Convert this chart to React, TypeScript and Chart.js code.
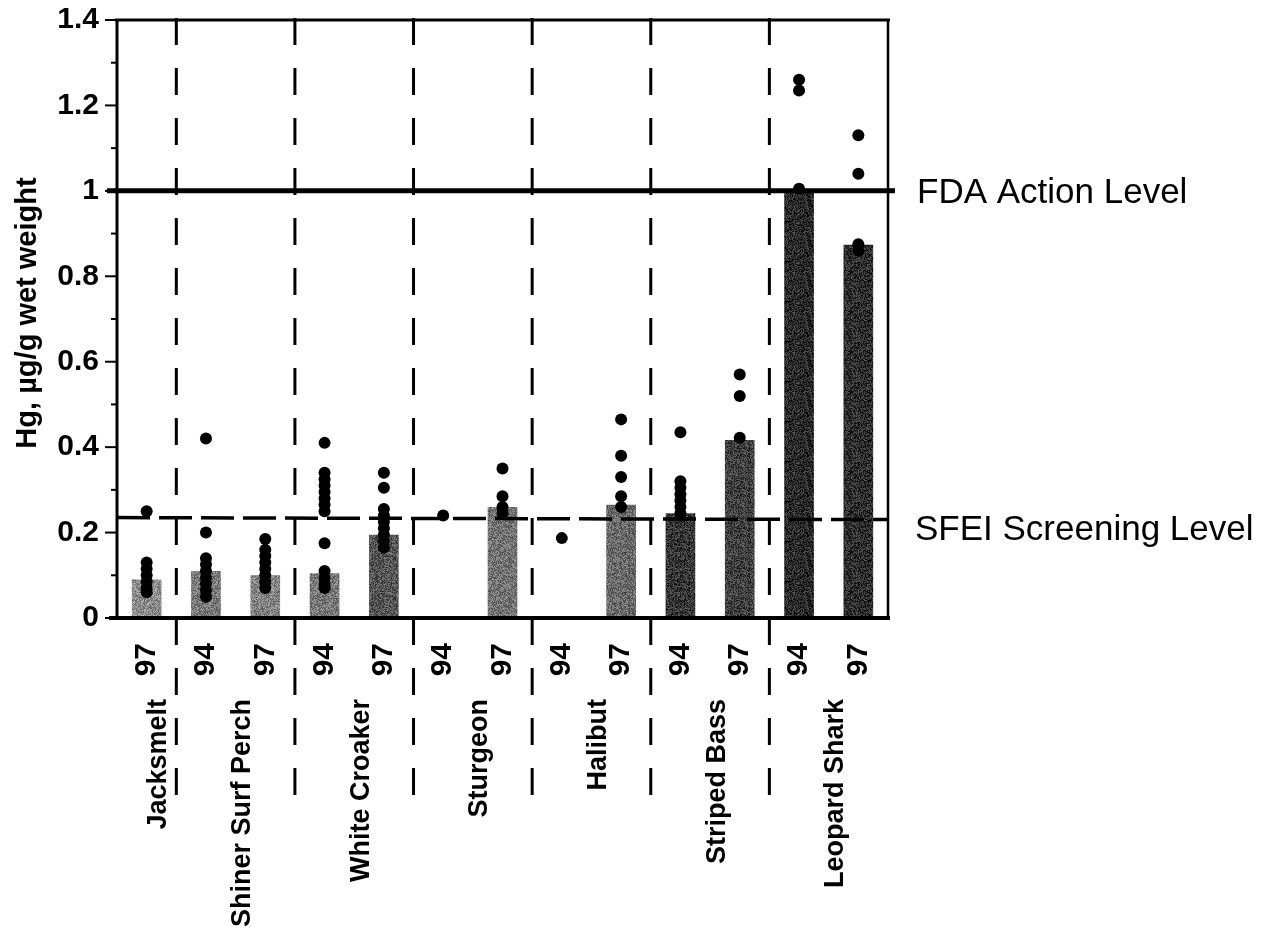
import React, { useEffect, useRef } from 'react';
import { Chart, registerables } from 'chart.js';

Chart.register(...registerables);

// ---- data ----
const yearLabels = ['97', '94', '97', '94', '97', '94', '97', '94', '97', '94', '97', '94', '97'];
const species = ['Jacksmelt', 'Shiner Surf Perch', 'White Croaker', 'Sturgeon', 'Halibut', 'Striped Bass', 'Leopard Shark'];
const speciesColumns = [1, 2, 2, 2, 2, 2, 2];
const meanValues: (number | null)[] = [0.09, 0.11, 0.1, 0.105, 0.195, null, 0.26, null, 0.265, 0.245, 0.417, 1.0, 0.874];
const sampleValues: number[][] = [
  [0.25, 0.13, 0.115, 0.1, 0.085, 0.07, 0.06],
  [0.42, 0.2, 0.14, 0.125, 0.11, 0.095, 0.08, 0.065, 0.05],
  [0.185, 0.16, 0.145, 0.13, 0.115, 0.1, 0.085, 0.07],
  [0.41, 0.34, 0.325, 0.31, 0.295, 0.28, 0.265, 0.25, 0.175, 0.11, 0.095, 0.08, 0.07],
  [0.34, 0.305, 0.255, 0.24, 0.225, 0.21, 0.195, 0.18, 0.165],
  [0.24],
  [0.35, 0.285, 0.26, 0.245],
  [0.187],
  [0.465, 0.38, 0.33, 0.285, 0.26],
  [0.435, 0.32, 0.305, 0.29, 0.275, 0.26, 0.245],
  [0.57, 0.52, 0.422],
  [1.26, 1.235, 1.005],
  [1.13, 1.04, 0.875, 0.86],
];
const barGrays = [140, 120, 130, 120, 85, 0, 115, 0, 105, 55, 65, 40, 45];
const fdaLevel = 1.0;
const fdaLabel = 'FDA Action Level';
const sfeiLevel = 0.235;
const sfeiLabel = 'SFEI Screening Level';
const yTitle = 'Hg, µg/g wet weight';
const yMin = 0;
const yMax = 1.4;
const yStep = 0.1;

const FONT = '"Liberation Sans", Arial, Helvetica, sans-serif';

function makePattern(base: number): CanvasPattern | string {
  const c = document.createElement('canvas');
  c.width = 40;
  c.height = 40;
  const g = c.getContext('2d');
  if (!g) return `rgb(${base},${base},${base})`;
  const img = g.createImageData(40, 40);
  let s = base * 9973 + 17;
  for (let i = 0; i < 40 * 40; i++) {
    s = (s * 1103515245 + 12345) % 2147483648;
    const n = (s / 2147483648 - 0.5) * 90;
    const v = Math.max(0, Math.min(255, base + n));
    img.data[i * 4] = v;
    img.data[i * 4 + 1] = v;
    img.data[i * 4 + 2] = v;
    img.data[i * 4 + 3] = 255;
  }
  g.putImageData(img, 0, 0);
  const p = g.createPattern(c, 'repeat');
  return p || `rgb(${base},${base},${base})`;
}

const decor = {
  id: 'decor',
  beforeDatasetsDraw(chart: any) {
    const { ctx, chartArea: a, scales } = chart;
    const x = scales.x;
    ctx.save();
    ctx.strokeStyle = '#000';
    ctx.lineWidth = 3;
    ctx.setLineDash([27, 23]);
    let col = 0;
    for (let g = 0; g < speciesColumns.length - 1; g++) {
      col += speciesColumns[g];
      const px = (x.getPixelForValue(col - 1) + x.getPixelForValue(col)) / 2;
      ctx.beginPath();
      ctx.moveTo(px, a.top - 2);
      ctx.lineTo(px, 798);
      ctx.stroke();
    }
    ctx.restore();
  },
  afterDatasetsDraw(chart: any) {
    const { ctx, chartArea: a, scales } = chart;
    const x = scales.x;
    const y = scales.y;
    ctx.save();
    ctx.strokeStyle = '#000';
    ctx.fillStyle = '#000';
    // SFEI dashed line
    const ys = y.getPixelForValue(sfeiLevel);
    ctx.lineWidth = 3.5;
    ctx.setLineDash([33, 9]);
    ctx.beginPath();
    ctx.moveTo(a.left, ys);
    ctx.lineTo(a.right, ys + 2);
    ctx.stroke();
    ctx.setLineDash([]);
    // FDA line
    const yf = y.getPixelForValue(fdaLevel);
    ctx.lineWidth = 5;
    ctx.beginPath();
    ctx.moveTo(a.left - 10, yf);
    ctx.lineTo(a.right + 7, yf);
    ctx.stroke();
    // frame
    ctx.lineWidth = 3;
    ctx.beginPath();
    ctx.moveTo(a.left, a.top);
    ctx.lineTo(a.left, a.bottom);
    ctx.stroke();
    ctx.beginPath();
    ctx.moveTo(a.left - 2, a.top);
    ctx.lineTo(a.right + 2, a.top);
    ctx.stroke();
    ctx.lineWidth = 2.5;
    ctx.beginPath();
    ctx.moveTo(a.right, a.top);
    ctx.lineTo(a.right, a.bottom);
    ctx.stroke();
    ctx.lineWidth = 4;
    ctx.beginPath();
    ctx.moveTo(a.left - 8, a.bottom);
    ctx.lineTo(a.right + 2, a.bottom);
    ctx.stroke();
    // y tick marks
    ctx.lineWidth = 2;
    y.ticks.forEach((t: any) => {
      const py = y.getPixelForValue(t.value);
      const major = Math.round(t.value * 10) % 2 === 0;
      ctx.beginPath();
      ctx.moveTo(a.left - (major ? 12 : 6), py);
      ctx.lineTo(a.left, py);
      ctx.stroke();
    });
    // species labels
    ctx.font = `bold 27px ${FONT}`;
    ctx.textAlign = 'right';
    ctx.textBaseline = 'middle';
    let col = 0;
    species.forEach((name, g) => {
      const n = speciesColumns[g];
      const first = x.getPixelForValue(col);
      const last = x.getPixelForValue(col + n - 1);
      col += n;
      const cx = (first + last) / 2 + (n === 1 ? 12 : 7);
      ctx.save();
      ctx.translate(cx, 699);
      ctx.rotate(-Math.PI / 2);
      ctx.fillText(name, 0, 0);
      ctx.restore();
    });
    // y title
    ctx.save();
    ctx.font = `bold 29px ${FONT}`;
    ctx.textAlign = 'center';
    ctx.textBaseline = 'middle';
    ctx.translate(28, 313);
    ctx.rotate(-Math.PI / 2);
    ctx.fillText(yTitle, 0, 0);
    ctx.restore();
    // level labels
    ctx.font = `35px ${FONT}`;
    ctx.textAlign = 'left';
    ctx.textBaseline = 'alphabetic';
    ctx.fillText(fdaLabel, a.right + 29, yf + 12);
    ctx.fillText(sfeiLabel, a.right + 27, ys + 22);
    ctx.restore();
  },
};

export default function App() {
  const ref = useRef<HTMLCanvasElement>(null);
  useEffect(() => {
    if (!ref.current) return;
    const maxSamples = Math.max(...sampleValues.map((s) => s.length));
    const pointSets: any[] = [];
    for (let k = 0; k < maxSamples; k++) {
      pointSets.push({
        type: 'line',
        data: sampleValues.map((vals) => (k < vals.length ? vals[k] : null)),
        showLine: false,
        pointRadius: 6,
        pointBackgroundColor: '#000',
        pointBorderWidth: 0,
        borderColor: '#000',
        order: 0,
      });
    }
    const chart = new Chart(ref.current, {
      type: 'bar',
      data: {
        labels: yearLabels,
        datasets: [
          ...pointSets,
          {
            type: 'bar',
            data: meanValues,
            backgroundColor: barGrays.map((g) => makePattern(g)),
            borderWidth: 0,
            barPercentage: 0.5,
            categoryPercentage: 1,
            order: 1,
          } as any,
        ],
      },
      options: {
        responsive: false,
        animation: false,
        events: [],
        layout: { padding: { left: 0, top: 20, right: 385, bottom: 0 } },
        plugins: { legend: { display: false }, tooltip: { enabled: false } },
        scales: {
          x: {
            type: 'category',
            offset: true,
            grid: { display: false },
            border: { display: false },
            ticks: {
              autoSkip: false,
              minRotation: 90,
              maxRotation: 90,
              padding: 17,
              color: '#000',
              font: { family: FONT, size: 30, weight: 'bold' },
            },
            afterFit: (s: any) => {
              s.height = 320;
              s.paddingLeft = 0;
              s.paddingRight = 0;
            },
          },
          y: {
            type: 'linear',
            min: yMin,
            max: yMax,
            grid: { display: false },
            border: { display: false },
            ticks: {
              stepSize: yStep,
              padding: 10,
              color: '#000',
              font: { family: FONT, size: 30, weight: 'bold' },
              callback: (v: any) => {
                const n = Number(v);
                return Math.round(n * 10) % 2 === 0 ? String(Number(n.toFixed(1))) : '';
              },
            },
            afterFit: (s: any) => {
              s.width = 117;
              s.paddingTop = 0;
              s.paddingBottom = 0;
            },
          },
        },
      } as any,
      plugins: [decor],
    });
    return () => chart.destroy();
  }, []);
  return (
    <div style={{ position: 'fixed', left: 0, top: 0, width: 1273, height: 938, background: '#fff' }}>
      <canvas ref={ref} width={1273} height={938} />
    </div>
  );
}
